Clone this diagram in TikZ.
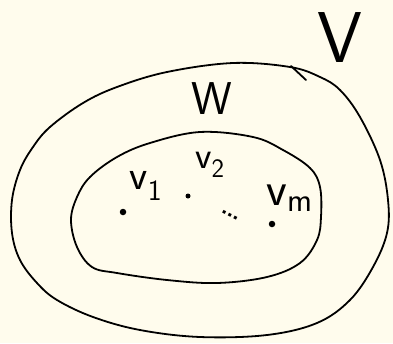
\documentclass[tikz,border=0pt]{standalone}
\usepackage{fontspec}
\usepackage{xcolor}
\definecolor{paper}{RGB}{255,252,237}
\tikzset{
  pen/.style={line width=1.8pt,line join=round,line cap=round},
  pt/.style={circle,fill=black,inner sep=0pt,minimum size=#1},
  pt/.default=6.5pt,
  setname/.style={font=\sffamily\fontsize{#1}{#1}\selectfont,inner sep=0pt}
}

\begin{document}
\begin{tikzpicture}[x=1pt,y=-1pt]
    \fill[paper] (0,0) rectangle (393,343);
    \useasboundingbox (0,0) rectangle (393,343);

    % outer set V
    \draw[pen] plot[smooth cycle,tension=0.6] coordinates {
      (233,63) (290,67) (320,77) (340,90) (360,117) (380,160) (388,200)
      (387,233) (373,267) (350,300) (317,323) (267,335) (200,337) (140,330)
      (93,317) (57,300) (37,283) (20,260) (12,233) (12,200) (20,170)
      (33,147) (50,127) (83,103) (117,87) (167,72)};
    \draw[pen] (291,66) -- (306,80);
    % inner set W
    \draw[pen] plot[smooth cycle,tension=0.6] coordinates {
      (200,132) (253,137) (283,150) (310,168) (320,187) (321,217) (317,240)
      (300,263) (267,277) (217,283) (167,280) (117,273) (92,267) (77,247)
      (71,220) (77,197) (90,177) (117,157) (150,143)};

    \node[setname=72] (V) at (340,38) {V};
    \node[setname=46] (W) at (212,99) {W};

    \node[pt] (v1) at (123,212) {};
    \node[pt=5pt] (v2) at (188,196) {};
    \node[pt] (vm) at (272,224) {};
    \node[setname=38,rotate=-27] (dots) at (230,215) {\dots};

    \node[setname=42] (l1) at (146,186) {v\textsubscript{1}};
    \node[setname=38] (l2) at (210,165) {v\textsubscript{2}};
    \node[setname=48] (lm) at (290,198) {v\textsubscript{m}};
\end{tikzpicture}
\end{document}
